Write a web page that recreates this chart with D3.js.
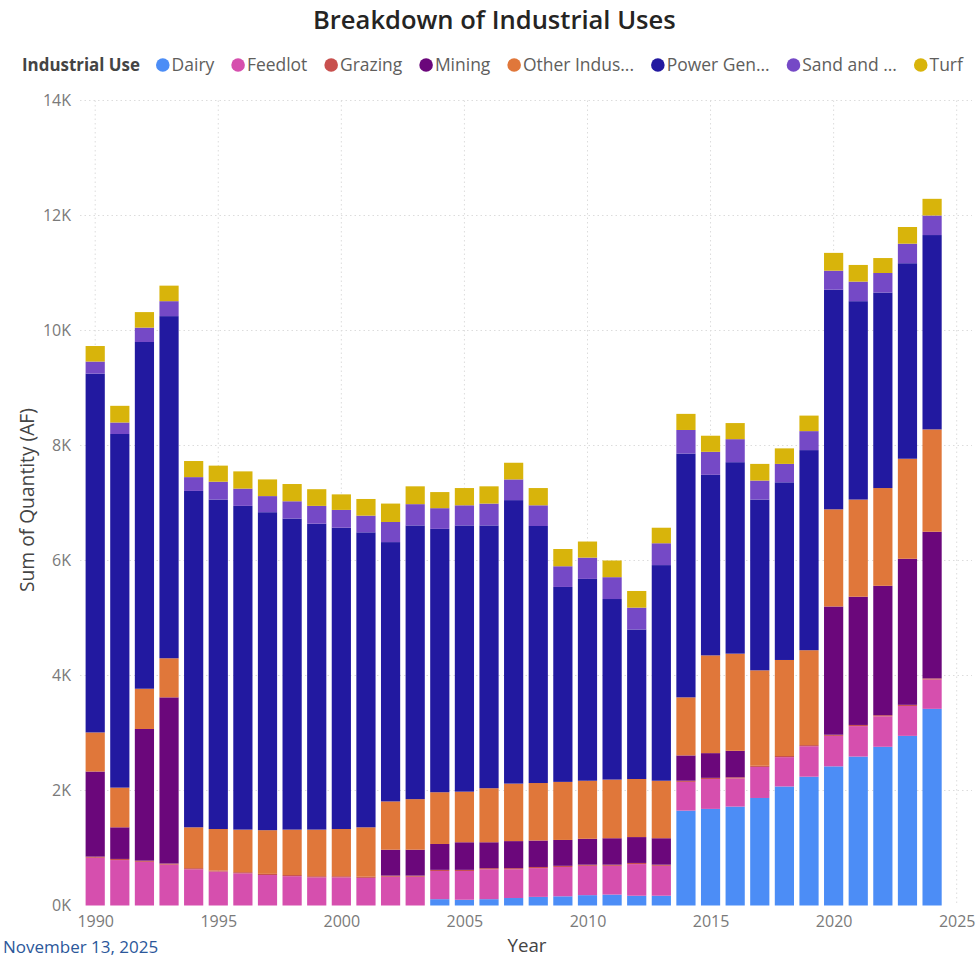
<!DOCTYPE html>
<html>
<head>
<meta charset="utf-8">
<script src="https://cdn.jsdelivr.net/npm/d3@7"></script>
<style>
  body { margin: 0; background: #fff; }
  svg { display: block; font-family: "Open Sans", "Noto Sans", sans-serif; }
</style>
</head>
<body>
<div id="chart"></div>
<script>
// values in acre-feet
var years = [1990, 1991, 1992, 1993, 1994, 1995, 1996, 1997, 1998, 1999,
  2000, 2001, 2002, 2003, 2004, 2005, 2006, 2007, 2008, 2009,
  2010, 2011, 2012, 2013, 2014, 2015, 2016, 2017, 2018, 2019,
  2020, 2021, 2022, 2023, 2024];

var dairy = [0, 0, 0, 0, 0, 0, 0, 0, 0, 0,
  0, 0, 0, 0, 110, 100, 110, 130, 150, 160,
  180, 190, 170, 170, 1650, 1680, 1720, 1870, 2070, 2240,
  2420, 2590, 2760, 2950, 3420];
var feedlot = [830, 790, 760, 710, 630, 590, 560, 530, 510, 490,
  490, 480, 500, 500, 490, 500, 520, 500, 500, 510,
  510, 500, 550, 520, 500, 520, 490, 540, 510, 530,
  530, 530, 530, 520, 510];
var grazing = [20, 20, 20, 20, 20, 20, 20, 20, 20, 20,
  20, 20, 20, 20, 20, 20, 20, 20, 20, 20,
  20, 20, 20, 20, 20, 20, 20, 20, 20, 20,
  20, 20, 20, 20, 20];
var mining = [1480, 550, 2290, 2890, 0, 0, 0, 0, 0, 0,
  0, 0, 450, 450, 450, 480, 450, 470, 460, 450,
  450, 460, 450, 460, 440, 430, 460, 0, 0, 0,
  2230, 2230, 2250, 2540, 2550];
var otherIndustrial = [680, 690, 700, 680, 710, 720, 740, 760, 790, 810,
  820, 860, 840, 880, 900, 880, 940, 1000, 1000, 1010,
  1010, 1020, 1010, 1000, 1010, 1700, 1690, 1660, 1670, 1650,
  1690, 1690, 1700, 1740, 1780];
var powerGen = [6240, 6150, 6030, 5950, 5850, 5730, 5630, 5530, 5410, 5320,
  5240, 5130, 4510, 4760, 4580, 4630, 4570, 4930, 4470, 3390,
  3510, 3140, 2600, 3750, 4240, 3140, 3330, 2970, 3090, 3480,
  3820, 3450, 3400, 3400, 3380];
var sandGravel = [210, 200, 250, 260, 240, 310, 300, 280, 300, 310,
  310, 290, 350, 370, 360, 350, 380, 360, 360, 360,
  370, 380, 380, 380, 410, 400, 400, 330, 320, 330,
  330, 340, 340, 340, 340];
var turf = [270, 290, 270, 270, 280, 280, 300, 290, 300, 290,
  270, 290, 320, 310, 280, 300, 300, 290, 300, 300,
  280, 290, 290, 270, 280, 280, 280, 290, 270, 270,
  310, 290, 260, 290, 290];

var seriesNames = ["Dairy", "Feedlot", "Grazing", "Mining", "Other Industrial",
  "Power Generation", "Sand and Gravel", "Turf"];
var legendLabels = ["Dairy", "Feedlot", "Grazing", "Mining", "Other Indus...",
  "Power Gen...", "Sand and ...", "Turf"];
var seriesColors = ["#4c8df6", "#d64fae", "#c8504e", "#6b077b", "#e0773a",
  "#2219a0", "#7549c6", "#d8b40b"];
var yTicks = [0, 2000, 4000, 6000, 8000, 10000, 12000, 14000];
var xTicks = [1990, 1995, 2000, 2005, 2010, 2015, 2020, 2025];

var seriesValues = [dairy, feedlot, grazing, mining, otherIndustrial, powerGen, sandGravel, turf];

var width = 978, height = 958;

var table = years.map(function(y, i) {
  var row = { year: y };
  seriesNames.forEach(function(name, k) { row[name] = seriesValues[k][i]; });
  return row;
});

var svg = d3.select('#chart')
  .append('svg')
  .attr('width', width)
  .attr('height', height);

var x = d3.scaleLinear().domain([1990, 2025]).range([95.2, 956.7]);
var y = d3.scaleLinear().domain([0, 14000]).range([905.5, 100.5]);
var color = d3.scaleOrdinal().domain(seriesNames).range(seriesColors);
var barW = 19.2;

// fit a text element to a target width by adjusting font size
function fitText(sel, targetW) {
  var base = parseFloat(sel.style('font-size'));
  var w = sel.node().getComputedTextLength();
  sel.style('font-size', (base * targetW / w) + 'px');
}

// grid
var grid = svg.append('g').attr('class', 'grid');
grid.selectAll('.hline')
  .data(yTicks.slice(1))
  .enter()
  .append('line')
  .attr('x1', 80).attr('x2', 972)
  .attr('y1', function(d) { return y(d); })
  .attr('y2', function(d) { return y(d); })
  .attr('stroke', '#dcdcdc')
  .attr('stroke-width', 1)
  .attr('stroke-dasharray', '1.5,3');
grid.selectAll('.vline')
  .data(xTicks)
  .enter()
  .append('line')
  .attr('x1', function(d) { return x(d); })
  .attr('x2', function(d) { return x(d); })
  .attr('y1', y(14000)).attr('y2', y(0))
  .attr('stroke', '#dcdcdc')
  .attr('stroke-width', 1)
  .attr('stroke-dasharray', '1.5,3');

// bars
var stack = d3.stack().keys(seriesNames);
var layers = svg.append('g').attr('class', 'bars')
  .selectAll('g')
  .data(stack(table))
  .enter()
  .append('g')
  .attr('fill', function(d) { return color(d.key); });

layers.selectAll('rect')
  .data(function(d) { return d; })
  .enter()
  .append('rect')
  .attr('x', function(d) { return x(d.data.year) - barW / 2; })
  .attr('width', barW)
  .attr('y', function(d) { return y(d[1]); })
  .attr('height', function(d) { return Math.max(0, y(d[0]) - y(d[1])); });

// y axis
var yAxis = d3.axisLeft(y)
  .tickValues(yTicks)
  .tickFormat(function(d) { return (d / 1000) + 'K'; })
  .tickSize(0)
  .tickPadding(0);
var gy = svg.append('g')
  .attr('transform', 'translate(71,0)')
  .call(yAxis);
gy.select('.domain').remove();
gy.selectAll('text')
  .attr('fill', '#7a7a7a')
  .style('font-size', '16px')
  .style('font-family', '"Open Sans", sans-serif');

// x axis
var xAxis = d3.axisBottom(x)
  .tickValues(xTicks)
  .tickFormat(d3.format('d'))
  .tickSize(0)
  .tickPadding(0);
var gx = svg.append('g')
  .attr('transform', 'translate(0,913)')
  .call(xAxis);
gx.select('.domain').remove();
gx.selectAll('text')
  .attr('fill', '#7a7a7a')
  .attr('dy', '0.9em')
  .style('font-size', '16px')
  .style('font-family', '"Open Sans", sans-serif');

// axis titles
var yTitle = svg.append('text')
  .attr('transform', 'translate(26,500) rotate(-90)')
  .attr('text-anchor', 'middle')
  .attr('dominant-baseline', 'central')
  .attr('fill', '#444')
  .style('font-size', '16px')
  .text('Sum of Quantity (AF)');
fitText(yTitle, 184);

var xTitle = svg.append('text')
  .attr('x', 527)
  .attr('y', 952)
  .attr('text-anchor', 'middle')
  .attr('fill', '#444')
  .style('font-size', '16px')
  .text('Year');
fitText(xTitle, 39);

// title
var title = svg.append('text')
  .attr('x', 313)
  .attr('y', 29)
  .attr('fill', '#252423')
  .style('font-size', '22px')
  .style('font-weight', 600)
  .text('Breakdown of Industrial Uses');
fitText(title, 363);

// legend
var legend = svg.append('g').attr('class', 'legend');
var legendHead = legend.append('text')
  .attr('x', 22)
  .attr('y', 71)
  .attr('fill', '#444')
  .style('font-size', '17px')
  .style('font-weight', 700)
  .text('Industrial Use');
fitText(legendHead, 118);

var r = 6.8, dotGap = 2, itemGap = 17, headGap = 16;
var items = legend.selectAll('.item')
  .data(seriesNames)
  .enter()
  .append('g')
  .attr('class', 'item');
var itemTexts = items.append('text')
  .attr('y', 71)
  .attr('fill', '#605e5c')
  .style('font-size', '17px')
  .text(function(d, i) { return legendLabels[i]; });

var textW = 0;
itemTexts.each(function() { textW += this.getComputedTextLength(); });
var fixedW = headGap + seriesNames.length * (2 * r + dotGap) + (seriesNames.length - 1) * itemGap;
var targetTextW = (963 - 140) - fixedW;
var legendSize = 17 * targetTextW / textW;
itemTexts.style('font-size', legendSize + 'px');

var cx = 140 + headGap;
items.each(function(d, i) {
  var g = d3.select(this);
  g.insert('circle', 'text')
    .attr('cx', cx + r)
    .attr('cy', 65)
    .attr('r', r)
    .attr('fill', color(d));
  var t = g.select('text').attr('x', cx + 2 * r + dotGap);
  cx += 2 * r + dotGap + t.node().getComputedTextLength() + itemGap;
});

// date stamp at the bottom left
svg.append('text')
  .attr('x', 3)
  .attr('y', 953)
  .attr('fill', '#2b579a')
  .style('font-size', '17px')
  .text('November 13, 2025');
</script>
</body>
</html>
